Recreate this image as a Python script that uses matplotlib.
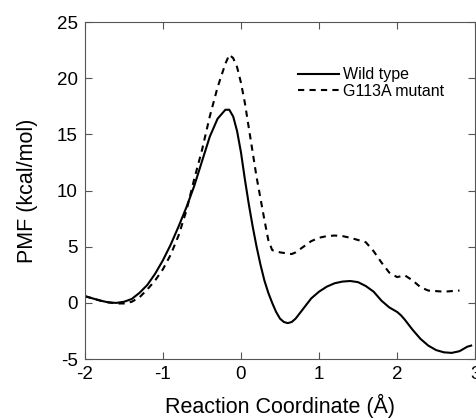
import matplotlib.pyplot as plt

plt.rcParams['font.family'] = ['Liberation Sans', 'DejaVu Sans']
plt.rcParams['axes.unicode_minus'] = False

# wild type PMF
wt_x = [-2.0, -1.9, -1.8, -1.7, -1.6, -1.5, -1.4, -1.3, -1.2, -1.1, -1.0, -0.9, -0.8,
        -0.7, -0.6, -0.5, -0.4, -0.3, -0.2, -0.15, -0.1, -0.05, 0.0, 0.05, 0.1, 0.15,
        0.2, 0.25, 0.3, 0.35, 0.4, 0.45, 0.5, 0.55, 0.6, 0.65, 0.7, 0.8, 0.9, 1.0,
        1.1, 1.2, 1.3, 1.4, 1.5, 1.6, 1.7, 1.8, 1.9, 2.0, 2.05, 2.1, 2.2, 2.3, 2.4,
        2.5, 2.6, 2.7, 2.8, 2.9, 2.95]
wt_y = [0.6, 0.4, 0.2, 0.05, 0.0, 0.1, 0.35, 0.9, 1.6, 2.6, 3.8, 5.2, 6.8,
        8.5, 10.4, 12.6, 14.8, 16.4, 17.2, 17.2, 16.6, 15.3, 13.4, 11.0, 8.8, 6.8,
        5.0, 3.4, 2.0, 0.9, 0.0, -0.8, -1.4, -1.7, -1.8, -1.7, -1.4, -0.5, 0.4, 1.0,
        1.45, 1.75, 1.9, 1.95, 1.85, 1.5, 1.0, 0.2, -0.4, -0.8, -1.1, -1.5, -2.4, -3.2, -3.8,
        -4.2, -4.4, -4.45, -4.3, -3.9, -3.8]

# G113A mutant PMF
mut_x = [-2.0, -1.9, -1.8, -1.7, -1.6, -1.5, -1.4, -1.3, -1.2, -1.1, -1.0, -0.9, -0.8,
         -0.7, -0.6, -0.5, -0.4, -0.3, -0.2, -0.15, -0.1, -0.05, 0.0, 0.05, 0.1, 0.15,
         0.2, 0.25, 0.3, 0.35, 0.4, 0.5, 0.6, 0.65, 0.7, 0.8, 0.9, 1.0, 1.1, 1.2,
         1.3, 1.4, 1.5, 1.6, 1.7, 1.8, 1.9, 2.0, 2.1, 2.2, 2.3, 2.4, 2.5, 2.6, 2.7, 2.8]
mut_y = [0.6, 0.4, 0.2, 0.05, -0.05, -0.05, 0.1, 0.5, 1.2, 2.0, 3.0, 4.3, 6.0,
         8.2, 11.0, 13.6, 16.6, 19.2, 21.3, 22.1, 21.8, 21.0, 19.6, 17.8, 15.6, 13.4,
         11.2, 9.3, 7.4, 5.6, 4.7, 4.5, 4.4, 4.35, 4.5, 5.0, 5.5, 5.8, 5.95, 6.0,
         5.95, 5.8, 5.6, 5.4, 4.6, 3.6, 2.7, 2.3, 2.45, 2.0, 1.4, 1.1, 1.05, 1.0, 1.05, 1.1]

fig = plt.figure(figsize=(4.77, 4.18), dpi=100)
ax = fig.add_axes([0.178, 0.141, 0.818, 0.806])

ax.plot(wt_x, wt_y, color='black', linewidth=1.5, linestyle='-', label='Wild type')
ax.plot(mut_x, mut_y, color='black', linewidth=1.5, linestyle=(0, (3, 2.5)), label='G113A mutant')

ax.set_xlim(-2, 3)
ax.set_ylim(-5, 25)
ax.set_xticks([-2, -1, 0, 1, 2, 3])
ax.set_yticks([-5, 0, 5, 10, 15, 20, 25])
ax.tick_params(direction='in', top=True, right=True, labelsize=13.5, length=5,
               color='#555555', pad=5)
for s in ax.spines.values():
    s.set_color('#555555')

ax.set_xlabel('Reaction Coordinate (Å)', fontsize=15.5, labelpad=8)
ax.set_ylabel('PMF (kcal/mol)', fontsize=15.5, labelpad=14)

ax.legend(loc='upper left', bbox_to_anchor=(0.546, 0.866), frameon=False, fontsize=11.5,
          handlelength=2.6, handletextpad=0.2, labelspacing=0.1, borderpad=0,
          borderaxespad=0)

fig.savefig('out.png', dpi=100)
